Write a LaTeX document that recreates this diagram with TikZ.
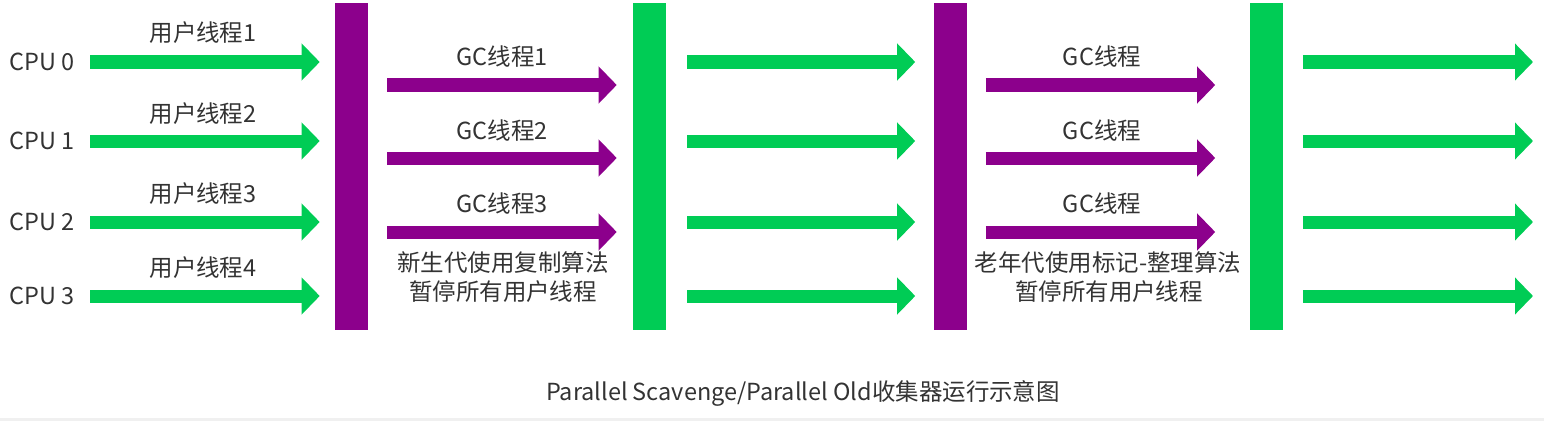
\documentclass[tikz,border=0pt]{standalone}
\usepackage{fontspec}
\setmainfont{Noto Sans CJK SC}
\usepackage{tikz}
\usetikzlibrary{arrows.meta, positioning}
\definecolor{gcgreen}{RGB}{0,204,85}
\definecolor{gcpurple}{RGB}{140,0,140}
\definecolor{txtgray}{RGB}{51,51,51}

\begin{document}
\begin{tikzpicture}[
  x=0.025cm, y=-0.025cm,
  bar/.style={rectangle, minimum width=0.825cm, minimum height=8.175cm, inner sep=0pt},
  gbar/.style={bar, fill=gcgreen},
  pbar/.style={bar, fill=gcpurple},
  arr/.style={line width=0.325cm, -{Triangle[length=0.45cm, width=0.9cm]}},
  garr/.style={arr, gcgreen},
  parr/.style={arr, gcpurple},
  lbl/.style={font=\fontsize{16.7}{20}\selectfont, text=txtgray, inner sep=0pt}
]
  \useasboundingbox (0,0) rectangle (1544,421);
  \fill[black!6] (0,418) rectangle (1544,421);

  \node[pbar] (bar1) at (351.5,166.5) {};
  \node[gbar] (bar2) at (649.5,166.5) {};
  \node[pbar] (bar3) at (950,166.5) {};
  \node[gbar] (bar4) at (1266,166.5) {};

  \foreach \i/\y/\uy/\n in {0/62/33/1, 1/141/114/2, 2/222/194/3, 3/296/268/4} {
    \coordinate (grow\i) at (0,\y);
    \coordinate (gend\i) at (1533,\y);
    \node[lbl, anchor=east] (cpu\i) at (75,\y) {CPU \i};
    \node[lbl] (user\i) at (203,\uy) {用户线程\n};
    \draw[garr, shorten <=0.375cm, shorten >=0.375cm] (cpu\i.east) -- (cpu\i.east -| bar1.west);
    \draw[garr, shorten <=0.525cm, shorten >=0.45cm] (bar2.east |- grow\i) -- (bar3.west |- grow\i);
    \draw[garr, shorten <=0.5cm] (bar4.east |- grow\i) -- (gend\i);
  }

  \foreach \k/\y/\ly in {1/85/57, 2/158/131, 3/232/204} {
    \coordinate (prow\k) at (0,\y);
    \node[lbl] (gcy\k) at (502,\ly) {GC线程\k};
    \node[lbl] (gco\k) at (1102,\ly) {GC线程};
    \draw[parr, shorten <=0.475cm, shorten >=0.4cm] (bar1.east |- prow\k) -- (bar2.west |- prow\k);
    \draw[parr, shorten <=0.475cm, shorten >=0.85cm] (bar3.east |- prow\k) -- (bar4.west |- prow\k);
  }

  \node[lbl] (young1) at (503,263) {新生代使用复制算法};
  \node[lbl] (young2) at (503,292) {暂停所有用户线程};
  \node[lbl] (old1) at (1108,263) {老年代使用标记-整理算法};
  \node[lbl] (old2) at (1109,292) {暂停所有用户线程};

  \node[lbl] (caption) at (803,393) {Parallel Scavenge/Parallel Old收集器运行示意图};
\end{tikzpicture}
\end{document}
